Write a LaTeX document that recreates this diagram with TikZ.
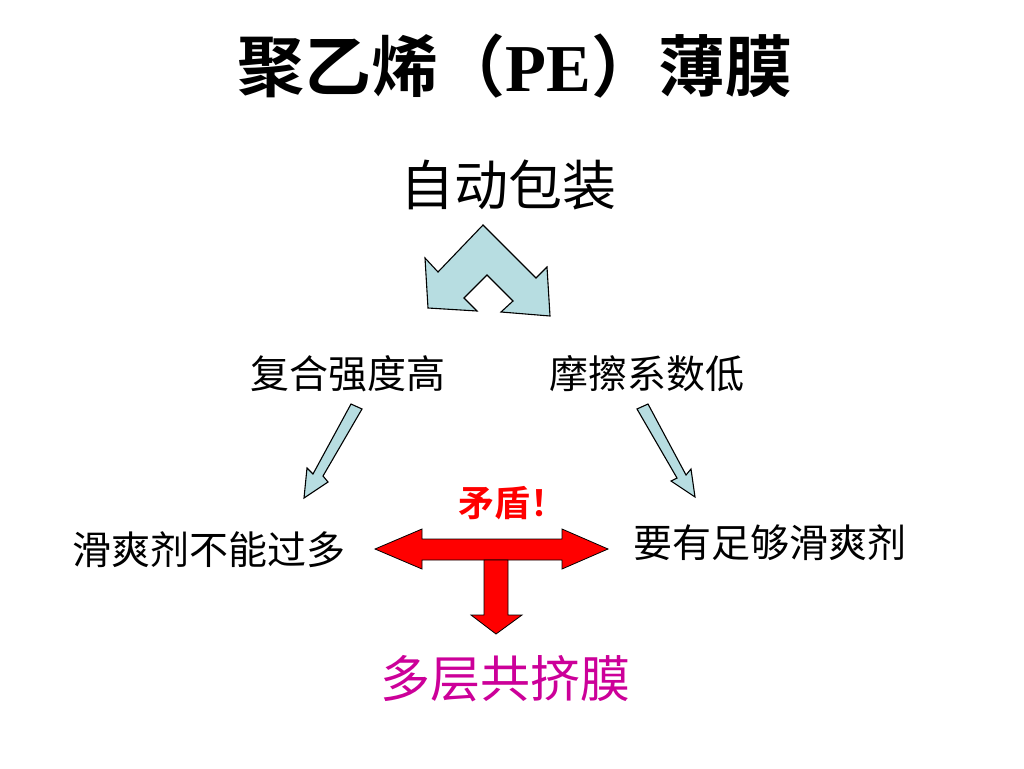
\documentclass[tikz,border=0pt]{standalone}
\usepackage{fontspec}
\setmainfont{Liberation Serif}
\newfontfamily\cjk{Noto Sans CJK SC}
\newfontfamily\cjkb{Noto Sans CJK SC Bold}
\definecolor{arrowblue}{RGB}{183,221,225}
\definecolor{magentatext}{RGB}{204,0,153}
\definecolor{redarrow}{RGB}{255,0,0}
\tikzset{
  blockblue/.style={fill=arrowblue,draw=black,line width=1.1pt,line join=miter},
  blockred/.style={fill=redarrow,draw=black,line width=0.8pt,line join=miter},
  label39/.style={font=\cjk\fontsize{39}{41}\selectfont,inner sep=0pt},
}
\begin{document}
\begin{tikzpicture}[x=1pt,y=-1pt]
\useasboundingbox[fill=white] (0,0) rectangle (1024,768);
% title
\node[inner sep=0pt] (title) at (515,66) {\cjkb\fontsize{67}{69}\selectfont 聚乙烯（{\rmfamily\bfseries PE}）薄膜};
% top
\node[inner sep=0pt,font=\cjk\fontsize{54}{56}\selectfont] (auto) at (508,185) {自动包装};
% chevron
\draw[blockblue] (483,225) -- (536,278) -- (547,267) -- (550,316) -- (501,312) -- (513,301)
  -- (487,275) -- (464,298) -- (477,311) -- (428,308) -- (425,258) -- (438,272) -- cycle;
% second row
\node[label39] (strength) at (348,374) {复合强度高};
\node[label39] (friction) at (647,374) {摩擦系数低};
% thin arrows
\draw[blockblue] (351,404) -- (362,409) -- (323,476) -- (328,482) -- (304,498) -- (307,468) -- (313,474) -- cycle;
\draw[blockblue] (648,404) -- (637,409) -- (677,478) -- (671,481) -- (695,497) -- (691,469) -- (686,475) -- cycle;
% third row
\node[label39] (less) at (209,550) {滑爽剂不能过多};
\node[label39] (enough) at (770,543) {要有足够滑爽剂};
\node[inner sep=0pt,text=redarrow,font=\cjkb\fontsize{36}{38}\selectfont] (conflict) at (512,503) {矛盾！};
% red arrows
\draw[blockred] (375,549) -- (422,529) -- (422,539) -- (562,539) -- (562,529) -- (608,549)
  -- (562,569) -- (562,560) -- (422,560) -- (422,569) -- cycle;
\draw[blockred] (484,560) -- (508,560) -- (508,615) -- (522,615) -- (496,634) -- (471,615) -- (484,615) -- cycle;
% result
\node[inner sep=0pt,text=magentatext,font=\cjk\fontsize{50}{52}\selectfont] (result) at (505,679) {多层共挤膜};
\end{tikzpicture}
\end{document}
